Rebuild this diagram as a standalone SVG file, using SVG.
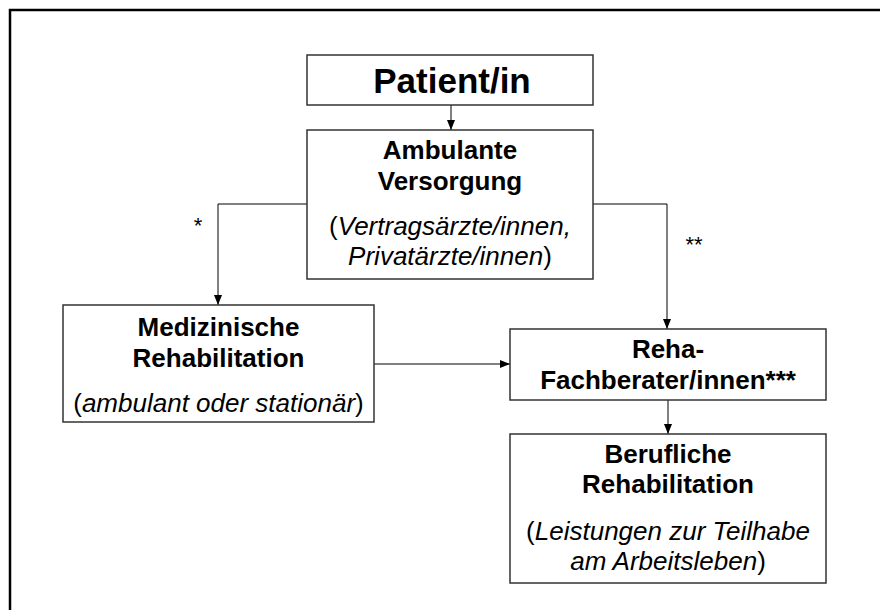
<svg xmlns="http://www.w3.org/2000/svg" width="880" height="610" viewBox="0 0 880 610">
  <defs>
    <marker id="arr" markerUnits="userSpaceOnUse" markerWidth="10" markerHeight="10" viewBox="0 0 10 10" refX="10" refY="5" orient="auto">
      <path d="M0,1 L10,5 L0,9 Z" fill="#000"/>
    </marker>
  </defs>
  <style>
    .box { fill: #fff; stroke: #333; stroke-width: 1.5; }
    .b { font-family: "Liberation Sans", Arial, sans-serif; font-weight: bold; font-size: 26px; fill: #000; text-anchor: middle; }
    .i { font-family: "Liberation Sans", Arial, sans-serif; font-size: 26px; fill: #000; text-anchor: middle; }
    .i tspan.it { font-style: italic; }
    .lbl { font-family: "Liberation Sans", Arial, sans-serif; font-size: 22px; fill: #000; text-anchor: middle; }
    .con { fill: none; stroke: #000; stroke-width: 1; }
  </style>
  <rect width="880" height="610" fill="#fff"/>
  <path d="M10,615 V10 H885" fill="none" stroke="#000" stroke-width="2.5"/>

  <g id="connectors">
    <path class="con" d="M451,105 V130" marker-end="url(#arr)"/>
    <path class="con" d="M307,204 H218 V305" marker-end="url(#arr)"/>
    <path class="con" d="M593,204 H667 V329" marker-end="url(#arr)"/>
    <path class="con" d="M374,364 H510" marker-end="url(#arr)"/>
    <path class="con" d="M668,400 V434" marker-end="url(#arr)"/>
    <text class="lbl" x="198" y="233">*</text>
    <text class="lbl" x="694" y="252">**</text>
  </g>

  <g id="patient">
    <rect class="box" x="307" y="55" width="286" height="50"/>
    <text class="b" x="452" y="93" style="font-size:35px">Patient/in</text>
  </g>

  <g id="ambulant">
    <rect class="box" x="307" y="130" width="286" height="149"/>
    <text class="b" x="450" y="159">Ambulante</text>
    <text class="b" x="450" y="190">Versorgung</text>
    <text class="i" x="450" y="235">(<tspan class="it">Vertragsärzte/innen,</tspan></text>
    <text class="i" x="450" y="265"><tspan class="it">Privatärzte/innen</tspan>)</text>
  </g>

  <g id="medizinisch">
    <rect class="box" x="63" y="305" width="311" height="117"/>
    <text class="b" x="218.5" y="336">Medizinische</text>
    <text class="b" x="218.5" y="367">Rehabilitation</text>
    <text class="i" x="218.5" y="412">(<tspan class="it">ambulant oder stationär</tspan>)</text>
  </g>

  <g id="fachberater">
    <rect class="box" x="510" y="329" width="316" height="71"/>
    <text class="b" x="668" y="358">Reha-</text>
    <text class="b" x="668" y="389">Fachberater/innen***</text>
  </g>

  <g id="beruflich">
    <rect class="box" x="510" y="434" width="316" height="149"/>
    <text class="b" x="668" y="463">Berufliche</text>
    <text class="b" x="668" y="493">Rehabilitation</text>
    <text class="i" x="668" y="540">(<tspan class="it">Leistungen zur Teilhabe</tspan></text>
    <text class="i" x="668" y="570"><tspan class="it">am Arbeitsleben</tspan>)</text>
  </g>
</svg>
